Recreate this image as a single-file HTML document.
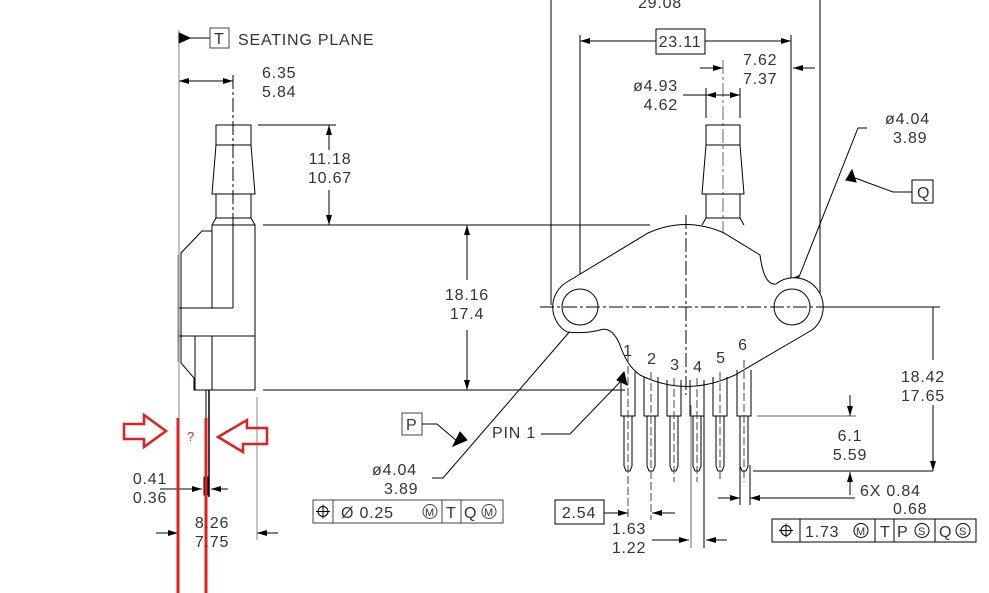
<!DOCTYPE html>
<html><head><meta charset="utf-8"><style>
html,body{margin:0;padding:0;background:#fff}
svg{display:block}
text{font-family:"Liberation Sans",sans-serif;font-size:16px;fill:#333;letter-spacing:0.8px}
</style></head><body>
<svg width="989" height="593" viewBox="0 0 989 593" xmlns="http://www.w3.org/2000/svg">
<defs>
<marker id="a" viewBox="0 0 10 6" refX="10" refY="3" markerWidth="10" markerHeight="6" orient="auto-start-reverse" markerUnits="userSpaceOnUse"><path d="M0,0 L10,3 L0,6z" fill="#000"/></marker>
</defs>
<g stroke="#000" stroke-width="1" fill="none">
<line x1="179" y1="30" x2="179" y2="420" stroke="#888"/>
<path d="M179,33 L190,38 L179,43z" fill="#000"/>
<line x1="190" y1="38" x2="210" y2="38"/>
<rect x="210" y="28" width="19" height="20" stroke="#444"/>
<line x1="179" y1="81" x2="233" y2="81" marker-end="url(#a)" marker-start="url(#a)"/>
<line x1="233" y1="75" x2="233" y2="225" stroke-dasharray="14,3,3,3"/>
<path d="M216,125 H251 V145 H216 Z M216,145 L212,194 H255 L251,145 M216,194 V218 M251,194 V218 M216,218 H251 M216,218 L212,225 M251,218 L255,225"/>
<path d="M212,225 H255 V390 H194 V378 L181,363 V253 L202,231 H212 V225"/>
<line x1="212" y1="231" x2="212" y2="308"/>
<line x1="179" y1="308" x2="233" y2="308"/>
<line x1="233" y1="225" x2="233" y2="308"/>
<line x1="179" y1="336" x2="255" y2="336"/>
<line x1="195" y1="336" x2="195" y2="390"/>
<line x1="212" y1="336" x2="212" y2="390"/>
<line x1="178" y1="255" x2="178" y2="362" stroke="#888"/>
<line x1="206" y1="390" x2="206" y2="497" stroke-width="1"/>
<line x1="209" y1="390" x2="209" y2="497" stroke-width="1.5"/>
<rect x="204" y="477" width="5" height="18" fill="#000"/>
<line x1="263" y1="225" x2="650" y2="225"/>
<line x1="263" y1="390" x2="625" y2="390"/>
<line x1="258" y1="125" x2="336" y2="125"/>
<line x1="329" y1="150" x2="329" y2="125" marker-end="url(#a)"/>
<line x1="329" y1="190" x2="329" y2="225" marker-end="url(#a)"/>
<line x1="467" y1="280" x2="467" y2="225" marker-end="url(#a)"/>
<line x1="467" y1="330" x2="467" y2="390" marker-end="url(#a)"/>
<line x1="257" y1="397" x2="257" y2="540" stroke="#888"/>
<line x1="160" y1="489" x2="202" y2="489" marker-end="url(#a)"/>
<line x1="228" y1="489" x2="211" y2="489" marker-end="url(#a)"/>
<line x1="156" y1="533" x2="178" y2="533" marker-end="url(#a)"/>
<line x1="278" y1="533" x2="257" y2="533" marker-end="url(#a)"/>
<rect x="402" y="413" width="20" height="22" stroke="#444"/>
<path d="M422,424 H437 L458,442"/>
<path d="M453,446 L467,440 L460,432z" fill="#000"/>
<path d="M432,478 H443 L578,322" />
<rect x="313" y="500" width="190" height="23" stroke="#444"/>
<path d="M333,500 V523 M442,500 V523 M461,500 V523" stroke="#444"/>
<circle cx="323" cy="511.5" r="5"/><path d="M316,511.5 H330 M323,504.5 V518.5"/>
<circle cx="430" cy="511.5" r="7" stroke="#444"/>
<circle cx="489" cy="511.5" r="7" stroke="#444"/>
<path d="M541,434 H570 L622,380"/>
<path d="M624,372 L627,385 L617,380z" fill="#000"/>

<line x1="551" y1="0" x2="551" y2="305"/>
<line x1="820" y1="0" x2="820" y2="300"/>
<line x1="580" y1="35" x2="580" y2="300"/>
<line x1="791" y1="35" x2="791" y2="290"/>
<line x1="656" y1="41" x2="580" y2="41" marker-end="url(#a)"/>
<line x1="705" y1="41" x2="791" y2="41" marker-end="url(#a)"/>
<rect x="656" y="29" width="49" height="25"/>
<line x1="700" y1="68" x2="723" y2="68" marker-end="url(#a)"/>
<line x1="815" y1="68" x2="793" y2="68" marker-end="url(#a)"/>
<line x1="723" y1="60" x2="723" y2="250" stroke="#666" stroke-dasharray="14,3,3,3"/>
<line x1="683" y1="95" x2="706" y2="95"/>
<line x1="723" y1="95" x2="706" y2="95" marker-end="url(#a)"/>
<line x1="723" y1="95" x2="740" y2="95" marker-end="url(#a)"/>
<line x1="706" y1="88" x2="706" y2="118"/><line x1="740" y1="88" x2="740" y2="118"/>
<path d="M706,125 H740 V145 H706 Z M706,145 L702,194 H744 L740,145 M706,194 V218 M740,194 V218 M706,218 H740 M706,218 L702,225 M740,218 L744,225"/>
<path d="M867,128 H858 L797,282"/>
<path d="M798,276 L793,288 L790,280z" fill="#000"/>
<path d="M846,180 L852,170 L856,182z" fill="#000"/>
<path d="M855,178 L893,192 H912"/>
<rect x="912" y="180" width="21" height="23"/>
<path d="M567,282 L648,233 Q686,216 724,233 L760,255 Q764,286 776,284 A29,29 0 0 1 812,330 L735,375 Q686,398 640,375 Q627,366 620,345 Q612,326 600,330 Q585,334 567,332 A29,29 0 0 1 567,282 Z" fill="#fff"/>
<circle cx="580" cy="307" r="18"/>
<circle cx="792" cy="307" r="18"/>
<line x1="540" y1="307" x2="832" y2="307" stroke-dasharray="14,3,3,3"/>
<line x1="686" y1="215" x2="686" y2="395" stroke-dasharray="14,3,3,3"/>
<g>
<path d="M621,378 V416 H635 V372 M624,416 V466 L626,471 H630 L632,466 V416"/>
<path d="M644,377 V416 H658 V377 M647,416 V466 L649,471 H653 L655,466 V416"/>
<path d="M667,380 V416 H681 V380 M670,416 V466 L672,471 H676 L678,466 V416"/>
<path d="M690,380 V416 H704 V380 M693,416 V466 L695,471 H699 L701,466 V416"/>
<path d="M713,377 V416 H727 V377 M716,416 V466 L718,471 H722 L724,466 V416"/>
<path d="M737,370 V416 H751 V370 M740,416 V466 L742,471 H746 L748,466 V416"/>
</g>
<g stroke-dasharray="8,3" stroke="#444">
<line x1="628" y1="355" x2="628" y2="520"/>
<line x1="651" y1="372" x2="651" y2="520"/>
<line x1="674" y1="378" x2="674" y2="482"/>
<line x1="697" y1="378" x2="697" y2="482"/>
<line x1="720" y1="372" x2="720" y2="482"/>
<line x1="744" y1="360" x2="744" y2="482"/>
</g>
<line x1="691" y1="405" x2="691" y2="548" stroke="#666"/>
<line x1="704" y1="405" x2="704" y2="548"/>
<line x1="652" y1="540" x2="689" y2="540" marker-end="url(#a)"/>
<line x1="727" y1="540" x2="706" y2="540" marker-end="url(#a)"/>
<rect x="555" y="500" width="49" height="24"/>
<line x1="604" y1="513" x2="628" y2="513" marker-end="url(#a)"/>
<line x1="675" y1="513" x2="652" y2="513" marker-end="url(#a)"/>
<line x1="757" y1="416" x2="856" y2="416" stroke="#666"/>
<line x1="850" y1="395" x2="850" y2="416" marker-end="url(#a)"/>
<line x1="753" y1="471" x2="933" y2="471"/>
<line x1="850" y1="495" x2="850" y2="472" marker-end="url(#a)"/>
<line x1="820" y1="307" x2="940" y2="307"/>
<line x1="933" y1="307" x2="933" y2="360"/>
<line x1="933" y1="405" x2="933" y2="471" marker-end="url(#a)"/>
<line x1="740" y1="465" x2="740" y2="505"/><line x1="750" y1="465" x2="750" y2="505"/>
<line x1="718" y1="498" x2="740" y2="498" marker-end="url(#a)"/>
<line x1="855" y1="498" x2="750" y2="498" marker-end="url(#a)"/>
<rect x="772" y="519" width="204" height="23"/>
<path d="M800,519 V542 M875,519 V542 M894,519 V542 M935,519 V542"/>
<circle cx="786" cy="530.5" r="5"/><path d="M779,530.5 H793 M786,523.5 V537.5"/>
<circle cx="861" cy="530.5" r="7"/>
<circle cx="922" cy="530.5" r="7"/>
<circle cx="963" cy="530.5" r="7"/>
</g>

<g stroke="#e02020" fill="none">
<line x1="178" y1="418" x2="178" y2="593" stroke-width="3"/>
<line x1="206" y1="418" x2="206" y2="593" stroke-width="3"/>
<path d="M124,424 H144 V415 L166,431 L144,447 V439 H124 Z" stroke-width="2.5"/>
<path d="M267,428 H247 V420 L218,437 L243,452 V444 H267 Z" stroke-width="2.5"/>
</g>
<text x="187" y="441" style="font-size:13px;fill:#e02020">?</text>

<text x="238" y="45">SEATING PLANE</text>
<text x="214" y="44">T</text>
<text x="262" y="78">6.35</text><text x="262" y="97">5.84</text>
<text x="330" y="164" text-anchor="middle">11.18</text><text x="330" y="183" text-anchor="middle">10.67</text>
<text x="467" y="300" text-anchor="middle">18.16</text><text x="467" y="319" text-anchor="middle">17.4</text>
<text x="150" y="484" text-anchor="middle">0.41</text><text x="150" y="503" text-anchor="middle">0.36</text>
<text x="212" y="528" text-anchor="middle">8.26</text><text x="212" y="547" text-anchor="middle">7.75</text>
<text x="406" y="430">P</text>
<text x="492" y="438">PIN 1</text>
<text x="372" y="475">ø4.04</text><text x="384" y="494">3.89</text>
<text x="341" y="518">Ø 0.25</text>
<text x="425" y="516" style="font-size:11px;letter-spacing:0">M</text>
<text x="446" y="518">T</text>
<text x="464" y="518">Q</text>
<text x="484" y="516" style="font-size:11px;letter-spacing:0">M</text>
<text x="660" y="8" text-anchor="middle">29.08</text>
<text x="680" y="47" text-anchor="middle">23.11</text>
<text x="743" y="65">7.62</text><text x="743" y="84">7.37</text>
<text x="678" y="91" text-anchor="end">ø4.93</text><text x="678" y="110" text-anchor="end">4.62</text>
<text x="885" y="124">ø4.04</text><text x="893" y="143">3.89</text>
<text x="917" y="198">Q</text>
<g style="font-size:18px">
<text x="628" y="356" text-anchor="middle">1</text>
<text x="652" y="364" text-anchor="middle">2</text>
<text x="675" y="370" text-anchor="middle">3</text>
<text x="698" y="372" text-anchor="middle">4</text>
<text x="721" y="363" text-anchor="middle">5</text>
<text x="743" y="350" text-anchor="middle">6</text>
</g>
<text x="850" y="441" text-anchor="middle">6.1</text><text x="850" y="460" text-anchor="middle">5.59</text>
<text x="923" y="382" text-anchor="middle">18.42</text><text x="923" y="401" text-anchor="middle">17.65</text>
<text x="860" y="496">6X  0.84</text><text x="893" y="514">0.68</text>
<text x="579" y="518" text-anchor="middle">2.54</text>
<text x="629" y="534" text-anchor="middle">1.63</text><text x="629" y="553" text-anchor="middle">1.22</text>
<text x="805" y="537">1.73</text>
<text x="856" y="535" style="font-size:11px;letter-spacing:0">M</text>
<text x="880" y="537">T</text>
<text x="897" y="537">P</text>
<text x="918" y="535" style="font-size:11px;letter-spacing:0">S</text>
<text x="939" y="537">Q</text>
<text x="959" y="535" style="font-size:11px;letter-spacing:0">S</text>
</svg>
</body></html>
